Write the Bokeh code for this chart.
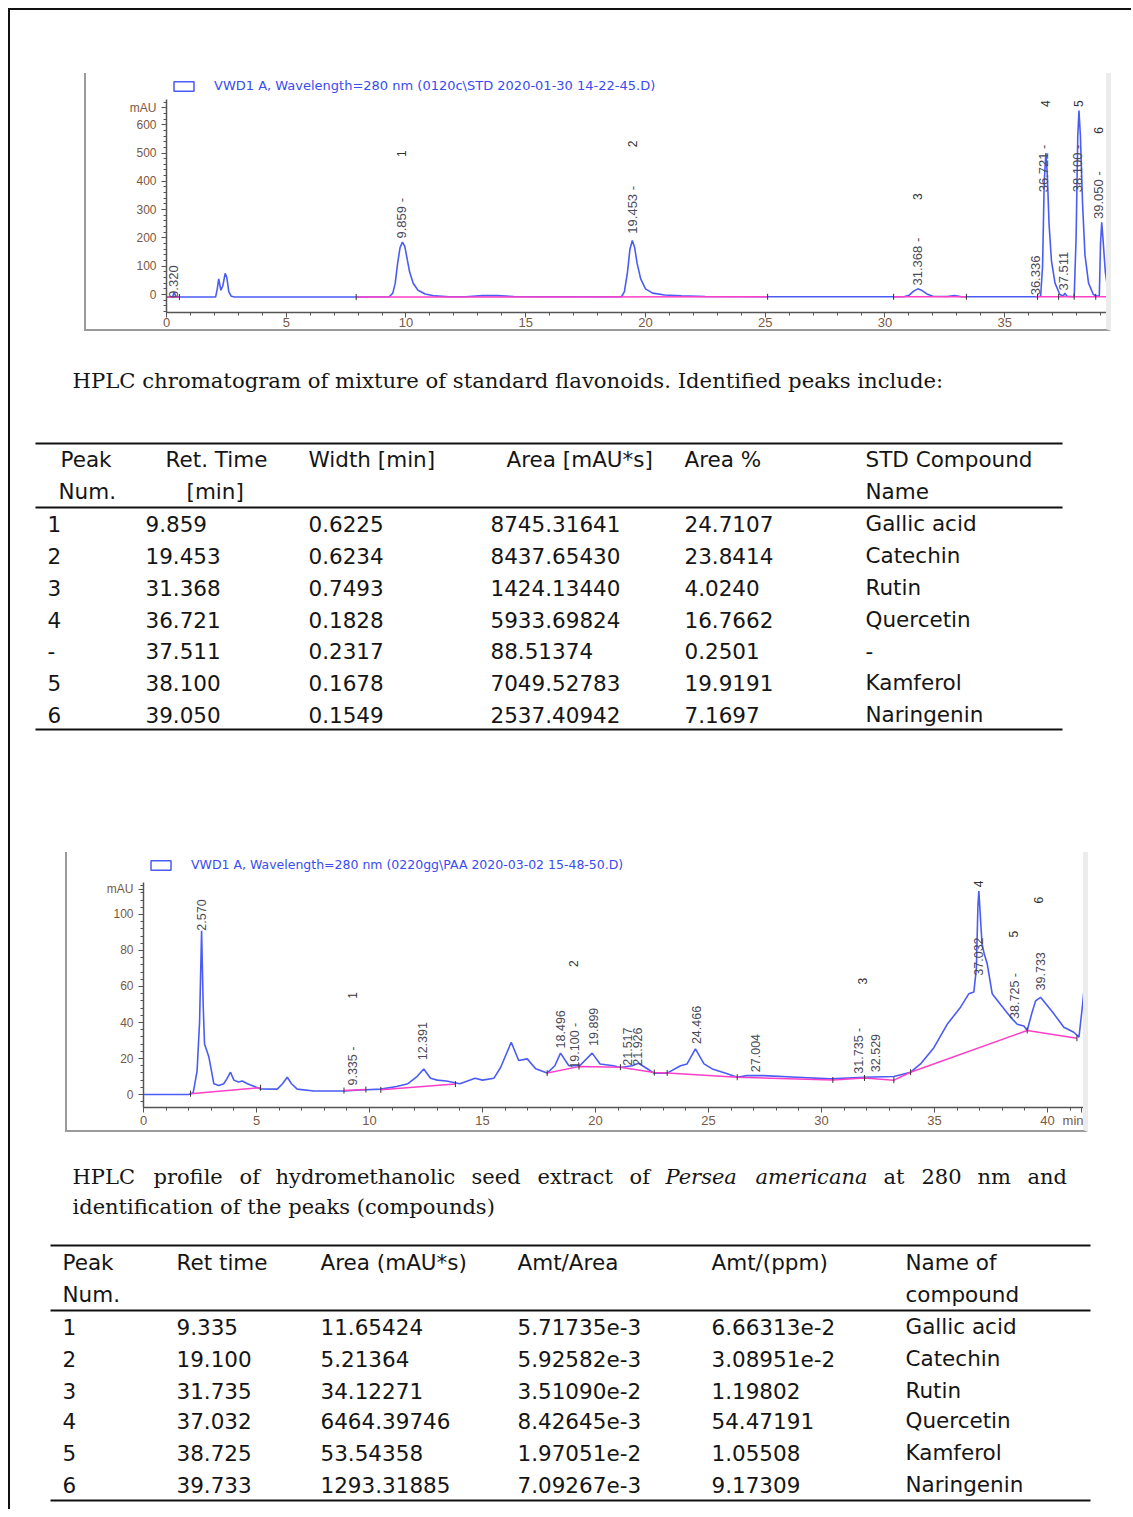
import math
import numpy as np
from bokeh.plotting import figure
from bokeh.models import Range1d, FixedTicker, ColumnDataSource, Spacer
from bokeh.layouts import column, row
from bokeh.core.properties import value
from bokeh.embed import file_html
from bokeh.resources import INLINE

# ---------------- data: chromatogram 1 (standard mixture) ----------------
t1 = [0.0, 0.25, 0.32, 0.4, 2.05, 2.12, 2.18, 2.27, 2.35, 2.45, 2.52, 2.6, 2.7, 2.85,
      8.0, 9.3, 9.45, 9.55, 9.65, 9.75, 9.85, 9.95, 10.05, 10.15, 10.3, 10.5, 10.8,
      11.2, 11.8, 12.5, 13.2, 13.8, 14.5, 15.5, 19.0, 19.12, 19.25, 19.35, 19.45,
      19.55, 19.65, 19.8, 20.0, 20.3, 20.8, 21.5, 22.5, 25.0, 30.8, 31.0, 31.2, 31.37,
      31.55, 31.75, 32.0, 32.6, 32.9, 33.2, 36.3, 36.5, 36.58, 36.65, 36.72, 36.78,
      36.85, 36.95, 37.1, 37.3, 37.45, 37.51, 37.6, 37.9, 37.98, 38.05, 38.1, 38.16,
      38.25, 38.35, 38.5, 38.7, 38.85, 38.95, 39.0, 39.05, 39.1, 39.2, 39.3, 39.4, 39.45]
v1 = [-9, -9, 8, -9, -9, 20, 55, 15, 30, 75, 60, 10, -6, -9,
      -9, -8, 5, 40, 110, 165, 185, 170, 125, 80, 40, 15, 2,
      -5, -8, -8, -4, -4, -7, -8, -8, 10, 80, 160, 191,
      165, 110, 55, 20, 5, -2, -5, -7, -8, -8, -3, 12, 20,
      14, 2, -6, -7, -4, -8, -8, -6, 100, 400, 500, 420,
      250, 120, 40, 0, -5, 5, -6, -8, 200, 560, 650, 560,
      320, 140, 40, 0, -6, -4, 180, 255, 200, 80, 20, -5, -8]
base1_t = [0.0, 0.54, None, 7.92, 25.1, None, 30.36, 33.4, None, 36.3, 39.45]
base1_v = [-9, -9, None, -9, -8, None, -8, -8, None, -8, -8]
event1_t = [0.54, 7.92, 25.1, 30.36, 33.4, 36.37, 37.25, 37.9, 38.8]
event1_v = [-9, -9, -8, -8, -8, -8, -8, -8, -8]
rt_lab1 = ["0.320", "9.859 -", "19.453 -", "31.368 -", "36.336", "36.721 -", "37.511", "38.100 -", "39.050 -"]
rt_lab1_t = [0.3, 9.82, 19.44, 31.34, 36.29, 36.63, 37.47, 38.02, 38.93]
rt_lab1_v = [-12, 198, 215, 32, -3, 361, 14, 361, 267]
num_lab1 = ["1", "2", "3", "4", "5", "6"]
num_lab1_t = [9.82, 19.44, 31.34, 36.7, 38.08, 38.93]
num_lab1_v = [498, 532, 346, 674, 674, 580]
legend1 = "VWD1 A, Wavelength=280 nm (0120c\\STD 2020-01-30 14-22-45.D)"

# ---------------- data: chromatogram 2 (seed extract) ----------------
t2 = [0.0, 2.0, 2.2, 2.37, 2.48, 2.57, 2.64, 2.7, 2.89, 3.11, 3.33, 3.55, 3.7, 3.85,
      4.0, 4.2, 4.37, 4.6, 5.18, 5.92, 6.15, 6.36, 6.55, 6.8, 7.54, 8.87, 9.6, 10.5,
      11.2, 11.7, 12.1, 12.4, 12.7, 13.0, 13.4, 14.0, 14.67, 15.0, 15.5, 15.8, 16.0,
      16.27, 16.6, 16.98, 17.35, 17.86, 18.2, 18.45, 18.82, 19.3, 19.85, 20.2, 20.8,
      21.1, 21.62, 21.9, 22.29, 22.58, 23.17, 23.76, 24.05, 24.42, 24.8, 25.2, 25.83,
      26.27, 26.7, 27.45, 28.9, 30.4, 31.87, 33.2, 33.94, 34.38, 34.97, 35.56, 36.15,
      36.52, 36.74, 36.85, 36.92, 36.96, 37.1, 37.2, 37.33, 37.55, 37.92, 38.36, 38.66,
      38.95, 39.1, 39.3, 39.47, 39.69, 40.28, 40.72, 41.16, 41.39, 41.55, 41.68, 41.9]
v2 = [0, 0, 1, 13, 40, 91, 50, 28, 21, 6, 5, 6, 9, 12.4,
      8, 7, 7.5, 6, 3.1, 3, 6, 9.6, 6, 3, 2, 2, 2.5, 3,
      4.5, 6, 10, 14.2, 9, 8, 7.5, 6, 9, 8, 9, 15, 21,
      29, 18.9, 19.8, 14.3, 11.9, 16, 23, 16, 16, 23, 17, 16,
      15, 16, 17.4, 14.3, 11.9, 11.9, 16, 17, 25.4, 17, 14, 11.5,
      9.6, 10.5, 10.5, 9.6, 8.7, 9.6, 10, 12.4, 17, 26, 39, 48.5,
      56, 57, 70, 105, 113, 83.7, 78, 72.6, 56, 50, 43, 39,
      38, 35.6, 45, 52, 54, 44.8, 37.4, 34.6, 31.9, 50, 67, 62.4]
base2_t = [2.08, 5.18, None, 8.87, 9.84, None, 10.5, 13.8, None,
           17.86, 19.27, 21.1, 22.6, 23.17, 26.27, 30.5, 31.9, 33.2, 33.94, 39.1, 41.3]
base2_v = [0.5, 3.8, None, 2.2, 2.8, None, 2.6, 5.8, None,
           11.9, 15.5, 15.2, 12.2, 12.0, 9.6, 8.1, 9.2, 8.0, 12.4, 35.6, 31.3]
event2_t = [2.08, 5.18, 8.87, 9.84, 10.5, 13.8, 17.86, 19.27, 21.1, 22.6, 23.17,
            26.27, 30.5, 31.9, 33.2, 33.94, 39.1, 41.3]
event2_v = [0.5, 3.8, 2.2, 2.8, 2.6, 5.8, 11.9, 15.5, 15.2, 12.2, 12.0,
            9.6, 8.1, 9.2, 8.0, 12.4, 35.6, 31.3]
rt_lab2 = ["2.570", "9.335 -", "12.391", "18.496", "19.100 -", "19.899", "21.517", "21.926",
           "24.466", "27.004", "31.735 -", "32.529", "37.032", "38.725 -", "39.733"]
rt_lab2_t = [2.57, 9.25, 12.35, 18.45, 19.1, 19.9, 21.4, 21.85, 24.45, 27.08, 31.65, 32.39, 36.96, 38.58, 39.7]
rt_lab2_v = [91, 5, 19, 25.6, 14.4, 27, 16, 16, 28, 12.4, 11.6, 12.4, 66, 42, 57.8]
num_lab2 = ["1", "2", "3", "4", "5", "6"]
num_lab2_t = [9.25, 19.03, 31.8, 36.96, 38.5, 39.6]
num_lab2_v = [55, 72.7, 63, 117, 89, 108]
legend2 = "VWD1 A, Wavelength=280 nm (0220gg\\PAA 2020-03-02 15-48-50.D)"

# ---------------- data: captions and tables ----------------
caption1 = "HPLC chromatogram of mixture of standard flavonoids. Identified peaks include:"
hdr1_row1 = ["Peak", "Ret. Time", "Width [min]", "Area [mAU*s]", "Area %", "STD Compound"]
hdr1_row2 = ["Num.", "[min]", "", "", "", "Name"]
peak_num1 = ["1", "2", "3", "4", "-", "5", "6"]
ret_time1 = ["9.859", "19.453", "31.368", "36.721", "37.511", "38.100", "39.050"]
width1 = ["0.6225", "0.6234", "0.7493", "0.1828", "0.2317", "0.1678", "0.1549"]
area1 = ["8745.31641", "8437.65430", "1424.13440", "5933.69824", "88.51374", "7049.52783", "2537.40942"]
area_pct1 = ["24.7107", "23.8414", "4.0240", "16.7662", "0.2501", "19.9191", "7.1697"]
compound1 = ["Gallic acid", "Catechin", "Rutin", "Quercetin", "-", "Kamferol", "Naringenin"]

caption2_line1 = ["HPLC", "profile", "of", "hydromethanolic", "seed", "extract", "of",
                  "Persea", "americana", "at", "280", "nm", "and"]
caption2_italic = [False, False, False, False, False, False, False, True, True, False, False, False, False]
caption2_line2 = "identification of the peaks (compounds)"
hdr2_row1 = ["Peak", "Ret time", "Area (mAU*s)", "Amt/Area", "Amt/(ppm)", "Name of"]
hdr2_row2 = ["Num.", "", "", "", "", "compound"]
peak_num2 = ["1", "2", "3", "4", "5", "6"]
ret_time2 = ["9.335", "19.100", "31.735", "37.032", "38.725", "39.733"]
area2 = ["11.65424", "5.21364", "34.12271", "6464.39746", "53.54358", "1293.31885"]
amt_area2 = ["5.71735e-3", "5.92582e-3", "3.51090e-2", "8.42645e-3", "1.97051e-2", "7.09267e-3"]
amt_ppm2 = ["6.66313e-2", "3.08951e-2", "1.19802", "54.47191", "1.05508", "9.17309"]
compound2 = ["Gallic acid", "Catechin", "Rutin", "Quercetin", "Kamferol", "Naringenin"]

# ---------------- styles ----------------
TRACE = "#4b5cf5"
BASE = "#ff3fc8"
TICKLAB = "#7a5844"
LABCOL = "#4a4a58"
SANS = "Liberation Sans"
LEGFONT = "DejaVu Sans"
TABLE_FONT = "DejaVu Sans"
SERIF = "DejaVu Serif"
NAN = float("nan")


def arr(a):
    return np.array(a, dtype=float)


def chrom(width, height, xr, yr, ml, mr, mb, xticks, xminor, xover, yticks, yminor, yover, ybounds,
          t, v, bt, bv, et, ev, rl, rlt, rlv, nl, nlt, nlv, leg, rt_size, leg_size):
    p = figure(width=width, height=height, x_range=Range1d(*xr), y_range=Range1d(*yr),
               toolbar_location=None, output_backend="svg",
               min_border_left=ml, min_border_right=mr, min_border_top=0, min_border_bottom=mb,
               styles={"border-left": "2px solid #9a9a9a", "border-bottom": "2px solid #9a9a9a",
                       "border-right": "5px solid #ececec"})
    p.xgrid.visible = False
    p.ygrid.visible = False
    p.outline_line_color = None
    p.background_fill_color = "white"
    p.border_fill_color = "white"
    for ax in (p.xaxis[0], p.yaxis[0]):
        ax.axis_line_color = "#555555"
        ax.axis_line_width = 1.5
        ax.major_tick_line_color = "#555555"
        ax.minor_tick_line_color = "#555555"
        ax.major_label_text_color = TICKLAB
        ax.major_label_text_font = SANS
    xa = p.xaxis[0]
    xa.ticker = FixedTicker(ticks=xticks, minor_ticks=xminor)
    xa.major_label_overrides = xover
    xa.major_tick_in = 0
    xa.major_tick_out = 5
    xa.minor_tick_in = 0
    xa.minor_tick_out = 3
    xa.major_label_standoff = 0
    xa.major_label_text_font_size = "13px"
    ya = p.yaxis[0]
    ya.ticker = FixedTicker(ticks=yticks, minor_ticks=yminor)
    ya.major_label_overrides = yover
    ya.major_tick_in = 0
    ya.major_tick_out = 5
    ya.minor_tick_in = 0
    ya.minor_tick_out = 3
    ya.major_label_standoff = 5
    ya.major_label_text_font_size = "12px"
    ya.bounds = ybounds
    # legend icon (outlined rectangle) for the signal; the proxy itself is not drawn
    p.quad(left=[NAN], right=[NAN], top=[NAN], bottom=[NAN], fill_color="white", fill_alpha=0,
           line_color=TRACE, line_width=1.5, legend_label=leg)
    p.line(arr(t), arr(v), line_color=TRACE, line_width=1.6)
    p.line(arr(bt), arr(bv), line_color=BASE, line_width=1.5)
    p.scatter(et, ev, marker="dash", angle=math.pi / 2, size=6, line_color="#333333", line_width=1)
    p.text(x=rlt, y=rlv, text=rl, angle=math.pi / 2, text_align="left", text_baseline="middle",
           text_font=value(SANS), text_font_size=rt_size, text_color=LABCOL)
    p.text(x=nlt, y=nlv, text=nl, angle=math.pi / 2, text_align="center", text_baseline="middle",
           text_font=value(SANS), text_font_size="12px", text_color="#333333")
    lg = p.legend[0]
    lg.location = "top_left"
    lg.margin = 3
    lg.padding = 2
    lg.glyph_width = 25
    lg.glyph_height = 12
    lg.label_height = 12
    lg.label_standoff = 18
    lg.label_text_font = LEGFONT
    lg.label_text_font_size = leg_size
    lg.label_text_color = "#3a4cf0"
    lg.border_line_alpha = 0
    lg.background_fill_alpha = 0
    return p


fig1 = chrom(1027, 258, (0, 39.5), (-63.6, 781), 80, 1, 19,
             list(range(0, 40, 5)), list(range(0, 40)), {},
             list(range(0, 700, 100)) + [660], list(range(-60, 690, 20)), {660: "mAU"}, (-63.6, 688),
             t1, v1, base1_t, base1_v, event1_t, event1_v,
             rt_lab1, rt_lab1_t, rt_lab1_v, num_lab1, num_lab1_t, num_lab1_v, legend1, "13px", "13px")

fig2 = chrom(1023, 280, (0, 41.9), (-7.2, 134.4), 76, 0, 25,
             list(range(0, 45, 5)) + [41.5], list(range(0, 42)), {41.5: "min"},
             list(range(0, 120, 20)) + [114], list(range(-4, 118, 4)), {114: "mAU"}, (-7.2, 118),
             t2, v2, base2_t, base2_v, event2_t, event2_v,
             rt_lab2, rt_lab2_t, rt_lab2_v, num_lab2, num_lab2_t, num_lab2_v, legend2, "12.5px", "12.5px")

TW = 1121


def text_fig(height, y_top):
    p = figure(width=TW, height=height, x_range=Range1d(10, 10 + TW),
               y_range=Range1d(y_top + height, y_top), x_axis_type=None, y_axis_type=None,
               toolbar_location=None, output_backend="svg", min_border=0)
    p.outline_line_color = None
    p.grid.visible = False
    return p


def put(p, xs, ys, texts, size="21.5px", font=TABLE_FONT, style="normal", color="#151515"):
    src = ColumnDataSource(dict(x=xs, y=ys, text=texts))
    p.text(x="x", y="y", text="text", source=src, text_align="left", text_baseline="middle",
           text_font=value(font), text_font_size=size, text_font_style=style, text_color=color)


def rules(p, x0, x1, ys):
    p.segment(x0=[x0] * len(ys), x1=[x1] * len(ys), y0=ys, y1=ys, line_color="#111111", line_width=2)


CAP = "21px"

# ---- caption + table 1 ----
tf1 = text_fig(521, 331)
put(tf1, [72], [380], [caption1], size="21.2px", font=SERIF)
rules(tf1, 35, 1062, [443, 507, 729])
h1x = [60, 165, 308, 506, 684, 865]
h1x2 = [58, 186, 308, 506, 684, 865]
put(tf1, h1x, [459] * 6, hdr1_row1)
put(tf1, h1x2, [491] * 6, hdr1_row2)
rows1 = [523, 555, 587, 619, 650, 682, 714]
for cx, col in zip([47, 145, 308, 490, 684, 865],
                   [peak_num1, ret_time1, width1, area1, area_pct1, compound1]):
    put(tf1, [cx] * len(col), rows1, col)

# ---- caption + table 2 ----
tf2 = text_fig(377, 1133)
cap_x = [72, 153, 239, 275, 471, 537, 629, 665, 755, 883, 921, 977, 1027]
nx = [x for x, it in zip(cap_x, caption2_italic) if not it]
nw = [w for w, it in zip(caption2_line1, caption2_italic) if not it]
ix = [x for x, it in zip(cap_x, caption2_italic) if it]
iw = [w for w, it in zip(caption2_line1, caption2_italic) if it]
put(tf2, nx, [1177] * len(nx), nw, size=CAP, font=SERIF)
put(tf2, ix, [1177] * len(ix), iw, size=CAP, font=SERIF, style="italic")
put(tf2, [72], [1207], [caption2_line2], size=CAP, font=SERIF)
rules(tf2, 50, 1090, [1246, 1311, 1501])
h2x = [62, 176, 320, 517, 711, 905]
put(tf2, h2x, [1263] * 6, hdr2_row1)
put(tf2, h2x, [1295] * 6, hdr2_row2)
rows2 = [1327, 1359, 1391, 1421, 1453, 1485]
for cx, col in zip(h2x, [peak_num2, ret_time2, area2, amt_area2, amt_ppm2, compound2]):
    put(tf2, [cx] * len(col), rows2, col)

page = column(
    Spacer(width=10, height=63),
    row(Spacer(width=74, height=10), fig1, spacing=0),
    tf1,
    row(Spacer(width=55, height=10), fig2, spacing=0),
    tf2,
    spacing=0,
    styles={"border-left": "2px solid #111111", "border-top": "2px solid #111111"},
)
root = column(Spacer(width=10, height=8), row(Spacer(width=8, height=10), page, spacing=0), spacing=0)

open("out.html", "w").write(file_html(root, INLINE))
